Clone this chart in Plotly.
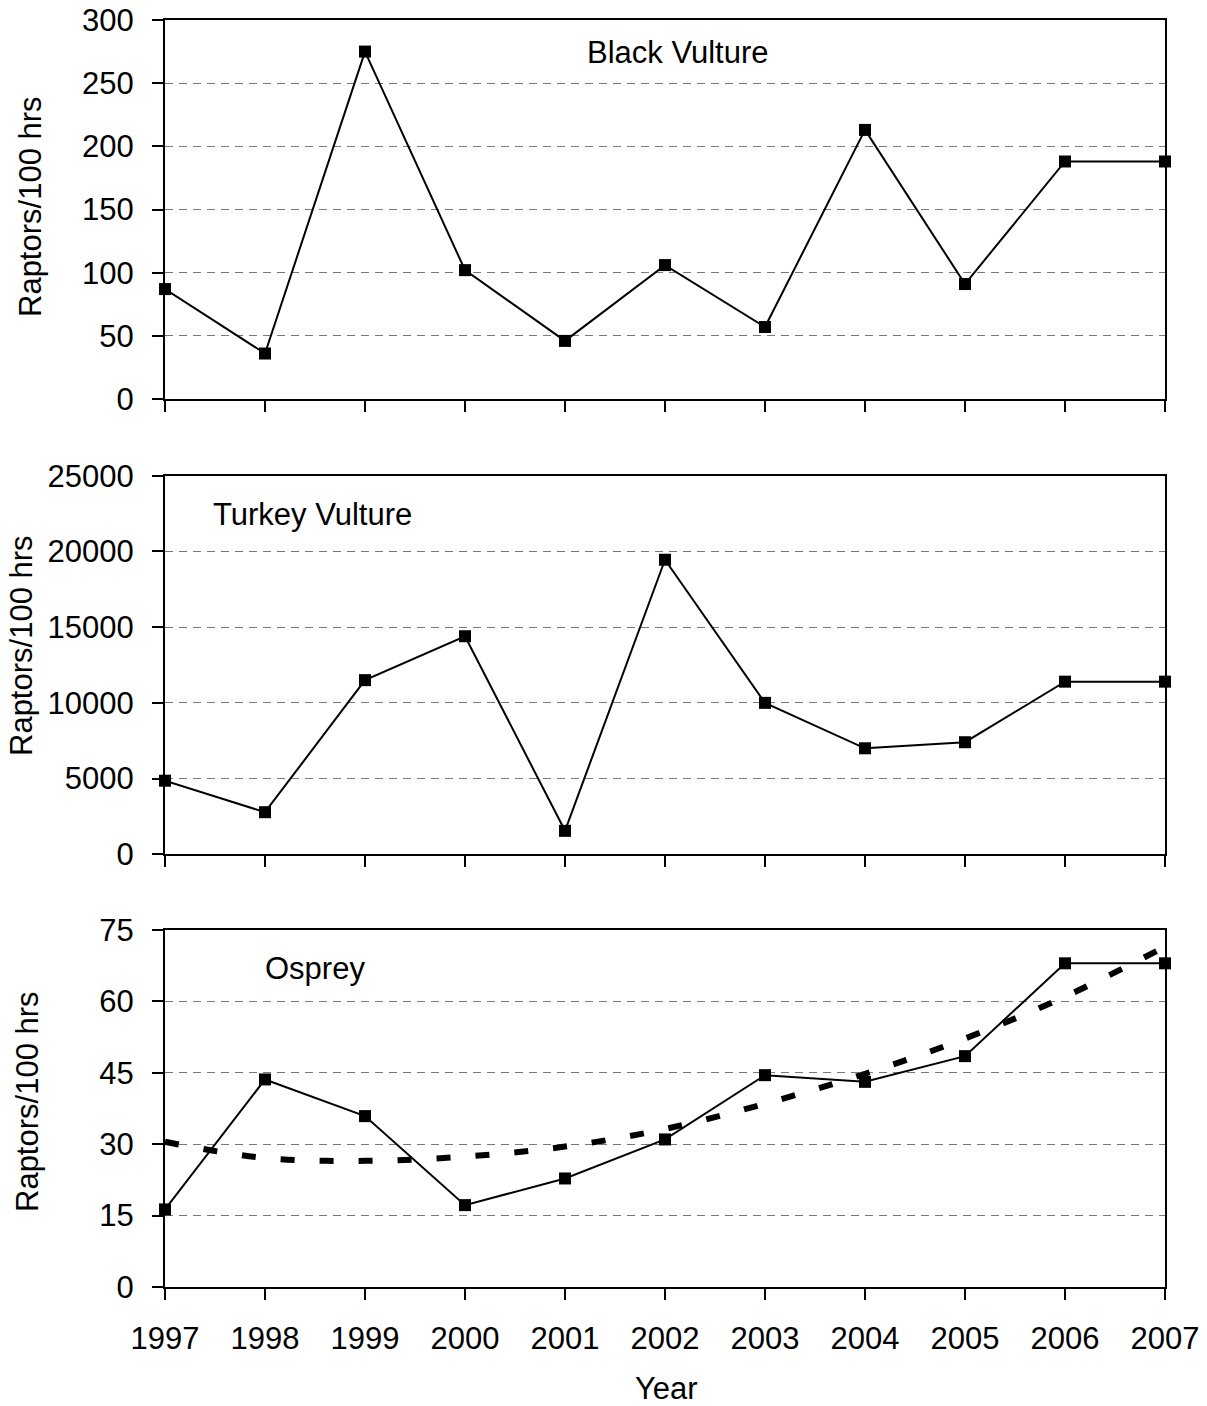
import plotly.graph_objects as go
from plotly.subplots import make_subplots

# Survey years
years = [1997, 1998, 1999, 2000, 2001, 2002, 2003, 2004, 2005, 2006, 2007]

# Passage rates (raptors per 100 observation hours)
black_vulture = [87, 36, 275, 102, 46, 106, 57, 213, 91, 188, 188]
turkey_vulture = [4860, 2780, 11500, 14400, 1550, 19450, 10000, 7000, 7400, 11400, 11400]
osprey = [16.3, 43.6, 35.9, 17.2, 22.8, 31.0, 44.5, 43.1, 48.5, 68.0, 68.0]

# Fitted trend for osprey
osprey_trend = [30.5, 27.1, 26.5, 27.4, 29.5, 33.2, 38.5, 44.8, 52.2, 61.0, 71.5]

panel_titles = ["Black Vulture", "Turkey Vulture", "Osprey"]
y_ranges = [[0, 300], [0, 25000], [0, 75]]
y_steps = [50, 5000, 15]
y_label = "Raptors/100 hrs"
x_label = "Year"

FONT = "Arial, Liberation Sans, sans-serif"
FS = 31

W, H = 1207, 1406
L, R, T, B = 165, 1165, 20, 1287  # plot area in pixels


def px_x(p):
    return (p - L) / (R - L)


def px_y(p):
    return (B - p) / (B - T)


fig = make_subplots(rows=3, cols=1)

# osprey trend first so the observed series sits on top
fig.add_trace(
    go.Scatter(
        x=years, y=osprey_trend, mode="lines",
        line=dict(color="black", width=6, dash="14px,25px", shape="spline", smoothing=1.0),
        showlegend=False,
    ),
    row=3, col=1,
)

series = [black_vulture, turkey_vulture, osprey]
for i, vals in enumerate(series):
    fig.add_trace(
        go.Scatter(
            x=years, y=vals, mode="lines+markers",
            line=dict(color="black", width=2),
            marker=dict(symbol="square", size=12, color="black"),
            cliponaxis=False, showlegend=False,
        ),
        row=i + 1, col=1,
    )

# panel vertical extents (pixel top, pixel bottom)
panels = [(20, 399), (475.7, 854.3), (930, 1287)]

for i, (top, bot) in enumerate(panels):
    n = i + 1
    fig.update_yaxes(
        domain=[px_y(bot), px_y(top)],
        range=y_ranges[i], dtick=y_steps[i], tick0=0, tickformat="d",
        showline=True, linecolor="black", linewidth=2, mirror=True,
        ticks="outside", ticklen=11, tickwidth=2, tickcolor="black",
        ticklabelstandoff=12, automargin=False,
        showgrid=True, gridcolor="#7a7a7a", gridwidth=1, griddash="8px,6px",
        zeroline=False,
        tickfont=dict(family=FONT, size=FS, color="black"),
        row=n, col=1,
    )
    fig.update_xaxes(
        range=[1997, 2007], dtick=1, tick0=1997,
        showline=True, linecolor="black", linewidth=2, mirror=True,
        ticks="outside", ticklen=11, tickwidth=2, tickcolor="black",
        showgrid=False, zeroline=False, automargin=False,
        showticklabels=(n == 3), ticklabelstandoff=12,
        tickfont=dict(family=FONT, size=FS, color="black"),
        row=n, col=1,
    )

annotations = []
# species names inside panels
title_pos = [(678, 53), (312, 514), (315, 968)]
for name, (ax, ay) in zip(panel_titles, title_pos):
    annotations.append(dict(
        text=name, x=px_x(ax), y=px_y(ay), xref="paper", yref="paper",
        xanchor="center", yanchor="middle", showarrow=False,
        font=dict(family=FONT, size=FS, color="black"),
    ))

# y-axis titles
ytitle_pos = [(30, 207), (21, 646), (27, 1102)]
for ax, ay in ytitle_pos:
    annotations.append(dict(
        text=y_label, x=px_x(ax), y=px_y(ay), xref="paper", yref="paper",
        xanchor="center", yanchor="middle", showarrow=False, textangle=-90,
        font=dict(family=FONT, size=FS, color="black"),
    ))

# x-axis title
annotations.append(dict(
    text=x_label, x=px_x(666), y=px_y(1388), xref="paper", yref="paper",
    xanchor="center", yanchor="middle", showarrow=False,
    font=dict(family=FONT, size=FS, color="black"),
))

fig.update_layout(
    width=W, height=H,
    margin=dict(l=L, r=W - R, t=T, b=H - B),
    paper_bgcolor="white", plot_bgcolor="white",
    annotations=annotations,
    font=dict(family=FONT, size=FS, color="black"),
)

fig.write_html("out.html")
